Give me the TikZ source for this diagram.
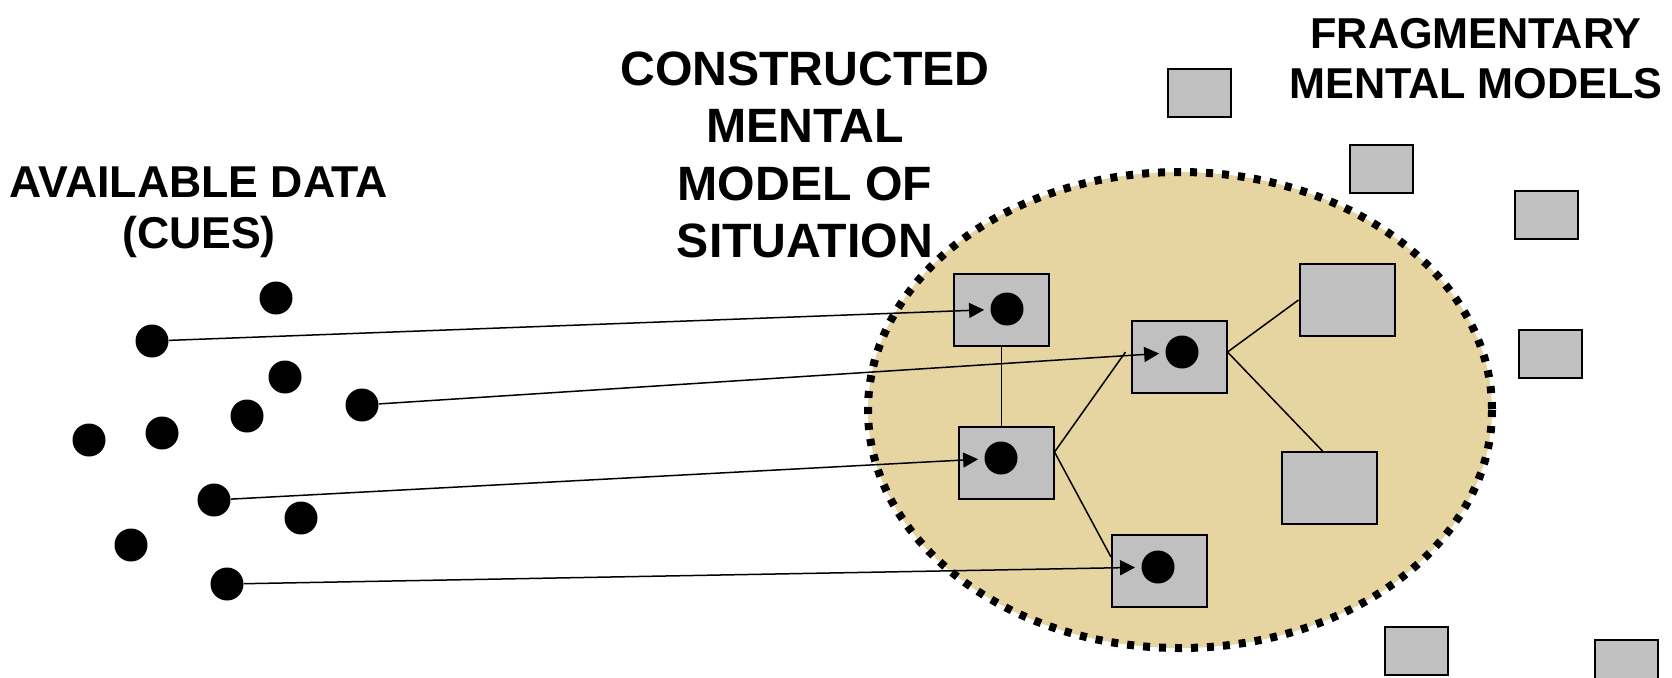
\documentclass[tikz,border=0pt]{standalone}
\usepackage{fontspec}
\setmainfont{Liberation Sans}
\usetikzlibrary{arrows.meta}
\definecolor{beige}{RGB}{230,213,160}
\definecolor{boxgray}{RGB}{192,192,192}
\begin{document}
\begin{tikzpicture}[x=0.5pt,y=-0.5pt,
  cue/.style={circle,fill=black,inner sep=0pt,minimum size=16.5pt},
  mdot/.style={circle,fill=black,inner sep=0pt,minimum size=16.5pt},
  bigbox/.style={rectangle,draw=black,fill=boxgray,line width=1pt,minimum width=47.5pt,minimum height=36pt,inner sep=0pt},
  smallbox/.style={rectangle,draw=black,fill=boxgray,line width=1pt,minimum width=31.5pt,minimum height=24pt,inner sep=0pt},
  link/.style={line width=0.75pt},
  cuearrow/.style={line width=0.75pt,-{Triangle[length=7.5pt,width=7.5pt]},shorten >=3pt},
  title/.style={align=center,inner sep=0pt,anchor=north},
]
\useasboundingbox (0,0) rectangle (1672,677);
\fill[white] (0,0) rectangle (1672,677);

% situation model region
\draw[fill=beige,line width=4pt,dash pattern=on 3.5pt off 4.5pt] (1180,410) ellipse [x radius=312,y radius=238];

% titles
\node[title,font=\bfseries\fontsize{22.3}{25.5}\selectfont] (avail) at (199,166) {AVAILABLE DATA\\(CUES)};
\node[title,font=\bfseries\fontsize{24.1}{28.75}\selectfont] (constr) at (805,51) {CONSTRUCTED\\MENTAL\\MODEL OF\\SITUATION};
\node[title,font=\bfseries\fontsize{21.6}{25}\selectfont] (frag) at (1476,18) {FRAGMENTARY\\MENTAL MODELS};

% boxes inside the model
\node[bigbox] (A) at (1001.5,310) {};
\node[bigbox] (B) at (1179,357) {};
\node[bigbox] (C) at (1006,463) {};
\node[bigbox] (D) at (1159.5,571) {};
\node[bigbox] (E) at (1347,300) {};
\node[bigbox] (F) at (1329.5,488) {};

\node[mdot] (dA) at (1007,309) {};
\node[mdot] (dB) at (1182,352) {};
\node[mdot] (dC) at (1001,458) {};
\node[mdot] (dD) at (1158,567) {};

% fragmentary models
\node[smallbox] (S1) at (1199.5,93) {};
\node[smallbox] (S2) at (1381,169) {};
\node[smallbox] (S3) at (1546.5,214.5) {};
\node[smallbox] (S4) at (1550.5,353.5) {};
\node[smallbox] (S5) at (1416,651) {};
\node[smallbox] (S6) at (1626,664) {};

% cues
\node[cue] (c1) at (276,298) {};
\node[cue] (c2) at (152,341) {};
\node[cue] (c3) at (285,377) {};
\node[cue] (c4) at (362,405) {};
\node[cue] (c5) at (247,416) {};
\node[cue] (c6) at (162,433) {};
\node[cue] (c7) at (89,440) {};
\node[cue] (c8) at (214,500) {};
\node[cue] (c9) at (301,518) {};
\node[cue] (c10) at (131,545) {};
\node[cue] (c11) at (227,584) {};

% links within model
\draw[link] (A.south) -- (A.south |- C.north);
\draw[link] ([yshift=5.5pt]C.east) -- ([xshift=-2.5pt,yshift=2.5pt]B.west);
\draw[link] ([yshift=5.5pt]C.east) -- ([yshift=7pt]D.west);
\draw[link] ([yshift=2.5pt]B.east) -- (E.west);
\draw[link] ([yshift=2.5pt]B.east) -- ([xshift=-3.5pt]F.north);

% cue arrows
\draw[cuearrow] (c2) -- (dA);
\draw[cuearrow] (c4) -- (dB);
\draw[cuearrow] (c8) -- (dC);
\draw[cuearrow] (c11) -- (dD);
\end{tikzpicture}
\end{document}
